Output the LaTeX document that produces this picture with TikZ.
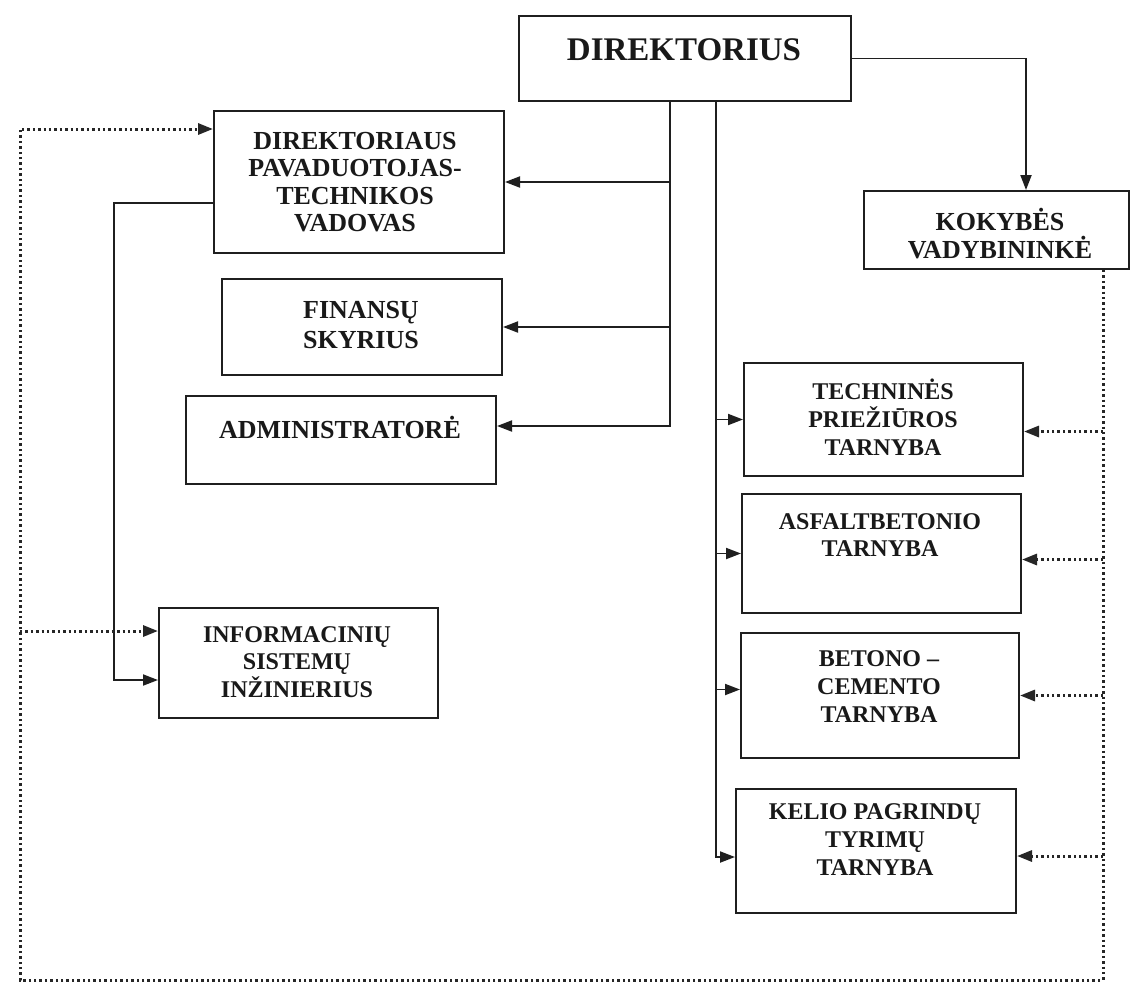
\documentclass[tikz,border=0pt]{standalone}
\usepackage{fontspec}
\setmainfont{Liberation Serif}
\usetikzlibrary{arrows.meta}
\begin{document}
\begin{tikzpicture}[x=1pt,y=-1pt,
  box/.style={draw=black!88, line width=2pt, inner sep=0pt, anchor=north west},
  txt/.style={align=center, inner sep=0pt, text=black!90},
  fa/.style={font=\bfseries\fontsize{26}{28}\selectfont},
  fb/.style={font=\bfseries\fontsize{24}{28}\selectfont},
  ln/.style={draw=black!88, line width=1.9pt},
  arr/.style={ln, -{Triangle[length=15pt,width=11pt]}},
  dotln/.style={draw=black!85, line width=3pt, dash pattern=on 2.4pt off 3pt},
  dotarr/.style={dotln, -{Triangle[length=15pt,width=11pt]}}
]
\useasboundingbox (0,0) rectangle (1131,1005);
\fill[white] (0,0) rectangle (1131,1005);

% boxes
\node[box, minimum width=332pt, minimum height=85pt] (dir) at (518,15) {};
\node[box, minimum width=290pt, minimum height=142pt] (dpv) at (213,110) {};
\node[box, minimum width=280pt, minimum height=96pt] (fin) at (221,278) {};
\node[box, minimum width=310pt, minimum height=88pt] (adm) at (185,395) {};
\node[box, minimum width=279pt, minimum height=110pt] (inf) at (158,607) {};
\node[box, minimum width=265pt, minimum height=78pt] (kok) at (863,190) {};
\node[box, minimum width=279pt, minimum height=113pt] (tech) at (743,362) {};
\node[box, minimum width=279pt, minimum height=119pt] (asf) at (741,493) {};
\node[box, minimum width=278pt, minimum height=125pt] (bet) at (740,632) {};
\node[box, minimum width=280pt, minimum height=124pt] (kel) at (735,788) {};

% texts
\node[txt, font=\bfseries\fontsize{33}{35}\selectfont] (dirT) at (684,50) {DIREKTORIUS};
\node[txt, font=\bfseries\fontsize{26}{27.5}\selectfont] (dpvT) at (355,182) {DIREKTORIAUS\\PAVADUOTOJAS-\\TECHNIKOS\\VADOVAS};
\node[txt, font=\bfseries\fontsize{26}{30}\selectfont] (finT) at (361,325) {FINANSŲ\\SKYRIUS};
\node[txt, fa] (admT) at (340,427) {ADMINISTRATORĖ};
\node[txt, font=\bfseries\fontsize{24}{27.5}\selectfont] (infT) at (297,662) {INFORMACINIŲ\\SISTEMŲ\\INŽINIERIUS};
\node[txt, fa] (kokT) at (1000,234) {KOKYBĖS\\VADYBININKĖ};
\node[txt, fb] (techT) at (883,417) {TECHNINĖS\\PRIEŽIŪROS\\TARNYBA};
\node[txt, font=\bfseries\fontsize{24}{27}\selectfont] (asfT) at (880,535) {ASFALTBETONIO\\TARNYBA};
\node[txt, fb] (betT) at (879,687) {BETONO~–\\CEMENTO\\TARNYBA};
\node[txt, fb] (kelT) at (875,840) {KELIO PAGRINDŲ\\TYRIMŲ\\TARNYBA};

% helper coordinates
\coordinate (xa) at (670,0);
\coordinate (xb) at (716,0);
\coordinate (xk) at (1026,0);
\coordinate (xl) at (114,0);
\coordinate (xr) at (1103,0);
\coordinate (xd) at (20,0);
\coordinate (yb) at (0,980);

\coordinate (admIn) at ([yshift=14pt]adm.east);
\coordinate (betIn) at ([yshift=6pt]bet.west);
\coordinate (kelIn) at ([yshift=-6pt]kel.west);
\coordinate (dpvOut) at ([yshift=-21pt]dpv.west);
\coordinate (infIn2) at ([yshift=-17pt]inf.west);
\coordinate (infIn1) at ([yshift=32pt]inf.west);
\coordinate (dpvIn) at ([yshift=53pt]dpv.west);
\coordinate (techIn) at ([yshift=-12pt]tech.east);
\coordinate (asfIn) at ([yshift=-6pt]asf.east);
\coordinate (betIn2) at (bet.east);
\coordinate (kelIn2) at ([yshift=-5pt]kel.east);

% director -> quality
\draw[arr] (dir.east) -- (xk |- dir.east) -- (xk |- kok.north);

% left trunk
\draw[arr] (xa |- dir.south) -- (xa |- admIn) -- (admIn);
\draw[arr] (xa |- dpv.east) -- (dpv.east);
\draw[arr] (xa |- fin.east) -- (fin.east);

% right trunk
\draw[arr] (xb |- dir.south) -- (xb |- kelIn) -- (kelIn);
\draw[arr] (xb |- tech.west) -- (tech.west);
\draw[arr] (xb |- asf.west) -- (asf.west);
\draw[arr] (xb |- betIn) -- (betIn);

% deputy -> IS engineer
\draw[arr] (dpvOut) -- (xl |- dpvOut) -- (xl |- infIn2) -- (infIn2);

% dotted quality loop
\draw[dotarr] (xr |- kok.south) -- (xr |- yb) -- (xd |- yb) -- (xd |- dpvIn) -- (dpvIn);
\draw[dotarr] (xd |- infIn1) -- (infIn1);
\draw[dotarr] (xr |- techIn) -- (techIn);
\draw[dotarr] (xr |- asfIn) -- (asfIn);
\draw[dotarr] (xr |- betIn2) -- (betIn2);
\draw[dotarr] (xr |- kelIn2) -- (kelIn2);
\end{tikzpicture}
\end{document}
